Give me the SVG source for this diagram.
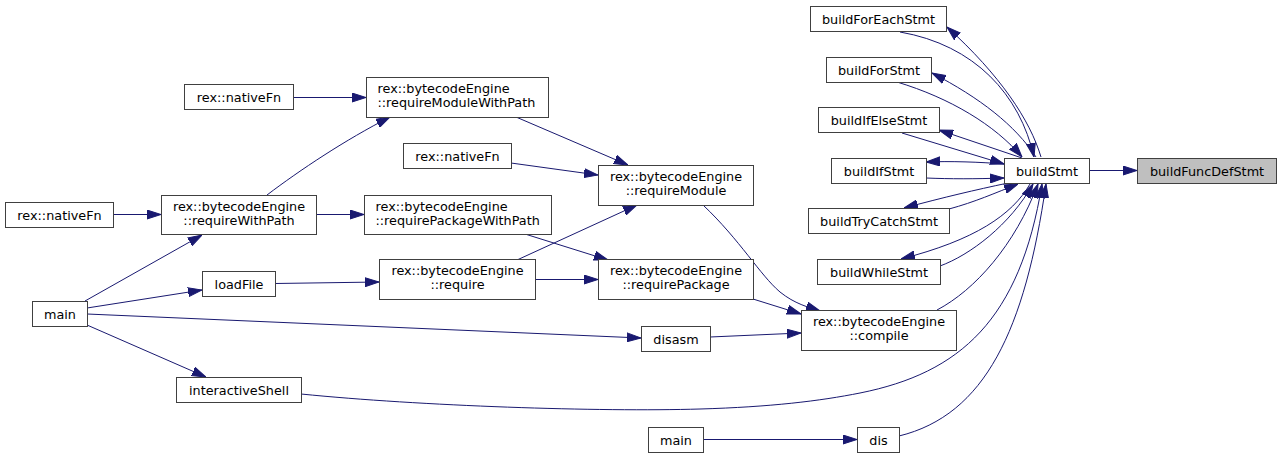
<svg xmlns="http://www.w3.org/2000/svg" width="1281" height="459" viewBox="0 0 1281 459">
  <style>
    .node rect { fill: #ffffff; stroke: #404040; stroke-width: 1; }
    .node.focus rect { fill: #bfbfbf; }
    .node text { font-family: "DejaVu Sans", "Liberation Sans", sans-serif; font-size: 12.8px; fill: #000000; text-anchor: middle; }
    .node text.left { text-anchor: start; }
    .edge { fill: none; stroke: #191970; stroke-width: 1; marker-end: url(#arrow); }
  </style>
  <defs>
    <marker id="arrow" markerUnits="userSpaceOnUse" viewBox="0 0 14 10" refX="14" refY="5" markerWidth="14" markerHeight="10" orient="auto">
      <path d="M0,0.5 L14,5 L0,9.5 z" fill="#191970" stroke="#191970" stroke-width="1"/>
    </marker>
  </defs>
  <rect width="1281" height="459" fill="#ffffff"/>

  <!-- call edges -->
  <g id="edges">
    <path class="edge" d="M1089,170.5 L1137,170.5"/>
    <path class="edge" d="M293,97.5 L366,97.5"/>
    <path class="edge" d="M267,195 C300,170 345,140 390,117"/>
    <path class="edge" d="M113,214.5 L161,214.5"/>
    <path class="edge" d="M85,301 L202,235"/>
    <path class="edge" d="M87,308 L202,290"/>
    <path class="edge" d="M87,314 L641,338"/>
    <path class="edge" d="M87,325 L206,377"/>
    <path class="edge" d="M316,214.5 L364,214.5"/>
    <path class="edge" d="M275,283.5 L379,282"/>
    <path class="edge" d="M516,117 L628,165"/>
    <path class="edge" d="M511,163 L598,175"/>
    <path class="edge" d="M517,260 L637,205"/>
    <path class="edge" d="M525,234 L608,260"/>
    <path class="edge" d="M535,279.5 L598,279.5"/>
    <path class="edge" d="M703,205 C740,240 760,275 780,292 C795,304 808,307 820,311"/>
    <path class="edge" d="M753,299 L801,314"/>
    <path class="edge" d="M710,337 L801,333"/>
    <path class="edge" d="M703,439.5 L857,439.5"/>
    <path class="edge" d="M301,394 C420,406 600,412 700,409 C770,407 820,401 860,393 C960,373 1020,320 1042,184"/>
    <path class="edge" d="M899,436 C985,415 1025,330 1046,184"/>
    <path class="edge" d="M937,310 C975,290 1015,245 1038,184"/>
    <path class="edge" d="M940,266 C970,255 1010,225 1033,184"/>
    <path class="edge" d="M1030,184 C1012,215 975,240 901,259"/>
    <path class="edge" d="M949,209 C975,202 995,193 1018,184"/>
    <path class="edge" d="M1008,183 C975,190 945,197 904,208"/>
    <path class="edge" d="M926,178 C950,179 975,179 1004,178"/>
    <path class="edge" d="M1004,164 C980,162 950,161 926,162"/>
    <path class="edge" d="M902,133 L1004,164"/>
    <path class="edge" d="M1022,158 L939,130"/>
    <path class="edge" d="M897,82 C950,98 995,125 1022,157"/>
    <path class="edge" d="M1036,157 C1015,125 980,98 932,73"/>
    <path class="edge" d="M900,32 C975,45 1020,95 1034,157"/>
    <path class="edge" d="M1041,157 C1030,120 1000,75 947,27"/>
  </g>

  <g id="buildFuncDefStmt" class="node focus">
    <rect x="1137.5" y="158.5" width="139" height="25"/>
    <text x="1207" y="175.5">buildFuncDefStmt</text>
  </g>
  <g id="buildStmt" class="node">
    <rect x="1004.5" y="158.5" width="85" height="25"/>
    <text x="1047" y="175.5">buildStmt</text>
  </g>
  <g id="buildForEachStmt" class="node">
    <rect x="810.5" y="6.5" width="136" height="25"/>
    <text x="878.5" y="23.5">buildForEachStmt</text>
  </g>
  <g id="buildForStmt" class="node">
    <rect x="826.5" y="57.5" width="105" height="25"/>
    <text x="879" y="74.5">buildForStmt</text>
  </g>
  <g id="buildIfElseStmt" class="node">
    <rect x="818.5" y="107.5" width="121" height="25"/>
    <text x="879" y="124.5">buildIfElseStmt</text>
  </g>
  <g id="buildIfStmt" class="node">
    <rect x="831.5" y="158.5" width="95" height="25"/>
    <text x="879" y="175.5">buildIfStmt</text>
  </g>
  <g id="buildTryCatchStmt" class="node">
    <rect x="808.5" y="208.5" width="141" height="25"/>
    <text x="879" y="225.5">buildTryCatchStmt</text>
  </g>
  <g id="buildWhileStmt" class="node">
    <rect x="817.5" y="259.5" width="123" height="25"/>
    <text x="879" y="276.5">buildWhileStmt</text>
  </g>
  <g id="compile" class="node">
    <rect x="801.5" y="310.5" width="155" height="40"/>
    <text x="879" y="326">rex::bytecodeEngine</text>
    <text x="879" y="340">::compile</text>
  </g>
  <g id="dis" class="node">
    <rect x="857.5" y="427.5" width="42" height="25"/>
    <text x="878.5" y="444.5">dis</text>
  </g>
  <g id="requireModule" class="node">
    <rect x="598.5" y="165.5" width="155" height="40"/>
    <text x="676" y="181">rex::bytecodeEngine</text>
    <text x="676" y="195">::requireModule</text>
  </g>
  <g id="requirePackage" class="node">
    <rect x="598.5" y="259.5" width="155" height="40"/>
    <text x="676" y="275">rex::bytecodeEngine</text>
    <text x="676" y="289">::requirePackage</text>
  </g>
  <g id="disasm" class="node">
    <rect x="641.5" y="326.5" width="69" height="25"/>
    <text x="676" y="343.5">disasm</text>
  </g>
  <g id="main2" class="node">
    <rect x="648.5" y="427.5" width="55" height="25"/>
    <text x="676" y="444.5">main</text>
  </g>
  <g id="requireModuleWithPath" class="node">
    <rect x="366.5" y="77.5" width="182" height="40"/>
    <text class="left" x="377.5" y="93">rex::bytecodeEngine</text>
    <text class="left" x="377.5" y="107">::requireModuleWithPath</text>
  </g>
  <g id="nativeFn2" class="node">
    <rect x="403.5" y="143.5" width="108" height="25"/>
    <text x="457.5" y="160.5">rex::nativeFn</text>
  </g>
  <g id="requirePackageWithPath" class="node">
    <rect x="364.5" y="195.5" width="187" height="39"/>
    <text class="left" x="375.5" y="211">rex::bytecodeEngine</text>
    <text class="left" x="375.5" y="225">::requirePackageWithPath</text>
  </g>
  <g id="require" class="node">
    <rect x="379.5" y="259.5" width="156" height="40"/>
    <text x="457.5" y="275">rex::bytecodeEngine</text>
    <text x="457.5" y="289">::require</text>
  </g>
  <g id="nativeFn1" class="node">
    <rect x="184.5" y="84.5" width="109" height="25"/>
    <text x="239" y="101.5">rex::nativeFn</text>
  </g>
  <g id="nativeFn0" class="node">
    <rect x="5.5" y="202.5" width="108" height="25"/>
    <text x="59.5" y="219.5">rex::nativeFn</text>
  </g>
  <g id="requireWithPath" class="node">
    <rect x="161.5" y="195.5" width="155" height="39"/>
    <text x="239" y="211">rex::bytecodeEngine</text>
    <text x="239" y="225">::requireWithPath</text>
  </g>
  <g id="loadFile" class="node">
    <rect x="202.5" y="271.5" width="73" height="25"/>
    <text x="239" y="288.5">loadFile</text>
  </g>
  <g id="main" class="node">
    <rect x="32.5" y="301.5" width="55" height="25"/>
    <text x="60" y="318.5">main</text>
  </g>
  <g id="interactiveShell" class="node">
    <rect x="176.5" y="377.5" width="125" height="25"/>
    <text x="239" y="394.5">interactiveShell</text>
  </g>
</svg>
